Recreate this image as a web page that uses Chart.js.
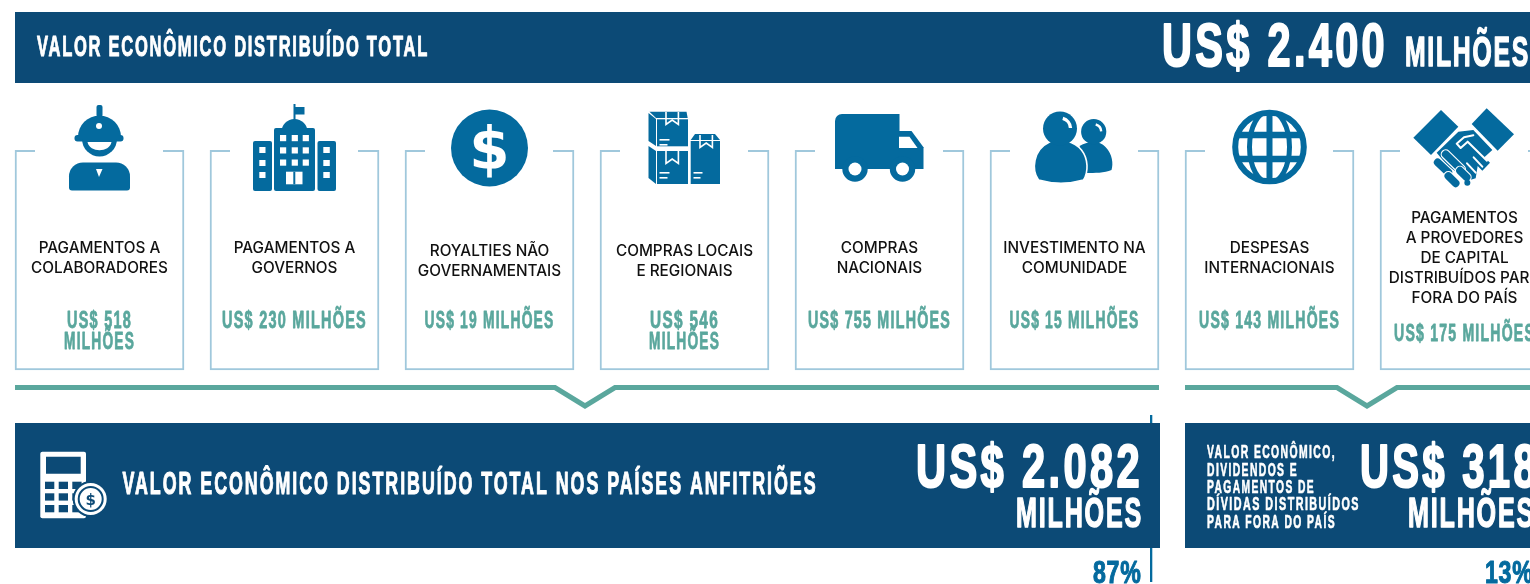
<!DOCTYPE html>
<html lang="pt-BR">
<head>
    <meta charset="UTF-8">
    <title>Valor econômico distribuído total</title>
    <script src="https://cdn.jsdelivr.net/npm/chart.js"></script>
    <style>
        html, body { margin: 0; background: #ffffff; overflow: hidden; }
        #wrap { width: 1530px; height: 584px; overflow: hidden; }
        canvas { display: block; }
    </style>
</head>
<body>
    <div id="wrap"><canvas id="cards" width="1564" height="584"></canvas></div>
    <script>
        // Dados
        const categories = [
            'PAGAMENTOS A COLABORADORES', 'PAGAMENTOS A GOVERNOS', 'ROYALTIES NÃO GOVERNAMENTAIS',
            'COMPRAS LOCAIS E REGIONAIS', 'COMPRAS NACIONAIS', 'INVESTIMENTO NA COMUNIDADE',
            'DESPESAS INTERNACIONAIS', 'PAGAMENTOS A PROVEDORES DE CAPITAL DISTRIBUÍDOS PARA FORA DO PAÍS'
        ];
        const amounts = [518, 230, 19, 546, 755, 15, 143, 175];
        const cardHeights = [1, 1, 1, 1, 1, 1, 1, 1];
        const totalTitle = 'VALOR ECONÔMICO DISTRIBUÍDO TOTAL';
        const totalAmount = '2.400';
        const hostTitle = 'VALOR ECONÔMICO DISTRIBUÍDO TOTAL NOS PAÍSES ANFITRIÕES';
        const hostAmount = '2.082';
        const hostShare = '87%';
        const abroadTitle = ['VALOR ECONÔMICO,', 'DIVIDENDOS E', 'PAGAMENTOS DE', 'DÍVIDAS DISTRIBUÍDOS', 'PARA FORA DO PAÍS'];
        const abroadAmount = '318';
        const abroadShare = '13%';
        const million = 'MILHÕES';

        // Quebras de linha e altura do texto em cada cartão
        const labelLines = [
            ['PAGAMENTOS A', 'COLABORADORES'], ['PAGAMENTOS A', 'GOVERNOS'], ['ROYALTIES NÃO', 'GOVERNAMENTAIS'],
            ['COMPRAS LOCAIS', 'E REGIONAIS'], ['COMPRAS', 'NACIONAIS'], ['INVESTIMENTO NA', 'COMUNIDADE'],
            ['DESPESAS', 'INTERNACIONAIS'], ['PAGAMENTOS', 'A PROVEDORES', 'DE CAPITAL', 'DISTRIBUÍDOS PARA', 'FORA DO PAÍS']
        ];
        const labelBaseline = [253, 253, 256, 256, 253, 253, 253, 223];
        const twoLineValue = [true, false, false, true, false, false, false, false];
        const valueBaseline = [328, 328, 328, 328, 328, 328, 328, 341];
        const valueWidth = [65, 145, 130, 69, 143, 130, 141, 141];

        const NAVY = '#0c4a76', ICON = '#046a9e', TEAL = '#5aa79d', CARD = '#a0c8dc';

        // Texto condensado: a fonte é achatada na horizontal até a largura pedida
        function cond(ctx, text, x, base, size, width, align, color, spacing) {
            ctx.save();
            ctx.font = 'bold ' + size + 'px "Liberation Sans Narrow", "Liberation Sans"';
            ctx.letterSpacing = (spacing || 0) + 'px';
            const sx = width / ctx.measureText(text).width;
            ctx.translate(x, base);
            ctx.scale(sx, 1);
            ctx.textAlign = align;
            ctx.textBaseline = 'alphabetic';
            ctx.fillStyle = color;
            ctx.fillText(text, 0, 0);
            // engrossa um pouco, a fonte original é mais pesada
            ctx.strokeStyle = color;
            ctx.lineWidth = size * 0.035;
            ctx.lineJoin = 'round';
            ctx.strokeText(text, 0, 0);
            ctx.restore();
        }

        function poly(ctx, pts, color) {
            ctx.fillStyle = color;
            ctx.beginPath();
            pts.forEach((p, i) => i ? ctx.lineTo(p[0], p[1]) : ctx.moveTo(p[0], p[1]));
            ctx.closePath();
            ctx.fill();
        }

        function box(ctx, x, y, w, h, r, color) {
            ctx.fillStyle = color;
            ctx.beginPath();
            ctx.roundRect(x, y, w, h, r);
            ctx.fill();
        }

        function disc(ctx, x, y, r, color) {
            ctx.fillStyle = color;
            ctx.beginPath();
            ctx.arc(x, y, r, 0, Math.PI * 2);
            ctx.fill();
        }

        // Ícones: x relativo ao centro do cartão, y absoluto
        function iconWorker(ctx) {
            box(ctx, -3, 105, 6, 12, 2, ICON);
            ctx.fillStyle = ICON;
            ctx.beginPath();
            ctx.arc(0, 137, 21.5, Math.PI, 0);
            ctx.fill();
            box(ctx, -25, 135, 49, 6.5, 3, ICON);
            disc(ctx, -0.5, 126, 3, '#ffffff');
            ctx.fillStyle = ICON;
            ctx.beginPath();
            ctx.arc(0, 139, 17.5, 0, Math.PI);
            ctx.fill();
            ctx.fillStyle = '#ffffff';
            ctx.beginPath();
            ctx.moveTo(-12, 142);
            ctx.lineTo(12, 142);
            ctx.bezierCurveTo(10, 153, -10, 153, -12, 142);
            ctx.fill();
            box(ctx, -30.5, 162.5, 61, 28, [14, 14, 3, 3], ICON);
            poly(ctx, [[-3.5, 169], [3, 169], [-0.5, 177]], '#ffffff');
        }

        function iconBuilding(ctx) {
            box(ctx, -41.5, 141, 19, 50, 2, ICON);
            box(ctx, 23, 141, 18.5, 50, 2, ICON);
            box(ctx, -20.5, 128, 41, 63, 2, ICON);
            ctx.fillStyle = ICON;
            ctx.beginPath();
            ctx.arc(0, 132, 13, Math.PI, 0);
            ctx.fill();
            ctx.fillRect(-1, 104, 2, 16);
            ctx.fillRect(0, 107, 10, 7.5);
            [135, 147.3, 159.5].forEach(y => [-14.5, -2.8, 8.2].forEach(x => box(ctx, x, y, 6.2, 6.2, 0, '#ffffff')));
            [147, 160, 172].forEach(y => {
                box(ctx, -35.2, y, 6.2, 6, 0, '#ffffff');
                box(ctx, 28.8, y, 6.5, 6, 0, '#ffffff');
            });
            box(ctx, -8.5, 171.7, 16.5, 12.6, 0, '#ffffff');
            box(ctx, -1.2, 171.7, 2, 12.6, 0, ICON);
        }

        function iconDollar(ctx) {
            disc(ctx, 0, 148, 38.5, ICON);
            ctx.font = 'bold 58px "DejaVu Sans"';
            ctx.textAlign = 'center';
            ctx.textBaseline = 'alphabetic';
            ctx.fillStyle = '#ffffff';
            ctx.fillText('$', 0, 169);
        }

        function ribbon(ctx, x, y) {
            ctx.strokeStyle = '#ffffff';
            ctx.lineWidth = 1.6;
            ctx.beginPath();
            ctx.moveTo(x, y);
            ctx.lineTo(x, y + 12.5);
            ctx.lineTo(x + 6.2, y + 8);
            ctx.lineTo(x + 12.4, y + 12.5);
            ctx.lineTo(x + 12.4, y);
            ctx.stroke();
        }

        function iconBoxes(ctx) {
            poly(ctx, [[-36, 113], [-28.5, 119], [-28.5, 146], [-36, 141]], ICON);
            poly(ctx, [[-35, 111.7], [2, 111.7], [3.2, 118], [-28.5, 118]], ICON);
            box(ctx, -27.5, 119.3, 31, 27, 0, ICON);
            poly(ctx, [[-36, 146], [-28.5, 151], [-28.5, 184], [-36, 178]], ICON);
            box(ctx, -27.5, 151, 31, 33, 0, ICON);
            poly(ctx, [[6.2, 140], [10.5, 134], [30.5, 134], [35.5, 140]], ICON);
            box(ctx, 6.2, 141, 29.3, 43, 0, ICON);
            ribbon(ctx, -18.5, 112);
            ribbon(ctx, -18.5, 151);
            ribbon(ctx, 15.5, 135);
            [[-25, 140, 10], [-25, 145, 8], [-25, 173, 10], [-25, 178, 8], [9, 173, 9], [9, 178, 7]].forEach(l => {
                box(ctx, l[0], l[1] - 1, l[2], 1.6, 0, '#ffffff');
            });
        }

        function iconTruck(ctx) {
            box(ctx, -44.5, 114, 64.5, 55, [7, 0, 0, 0], ICON);
            poly(ctx, [[19, 131], [32, 131], [44, 147.3], [44, 169], [19, 169]], ICON);
            poly(ctx, [[19.5, 136.7], [30, 136.7], [38, 148], [19.5, 148]], '#ffffff');
            [-24.5, 23].forEach(x => {
                disc(ctx, x, 169, 12.7, ICON);
                disc(ctx, x, 169, 6.5, '#ffffff');
            });
        }

        function iconPeople(ctx) {
            ctx.fillStyle = ICON;
            ctx.beginPath();
            ctx.moveTo(5, 146);
            ctx.bezierCurveTo(14, 141, 25, 140, 31, 147);
            ctx.bezierCurveTo(38, 154, 39, 164, 37, 170);
            ctx.bezierCurveTo(30, 173, 20, 173, 12, 173);
            ctx.closePath();
            ctx.fill();
            disc(ctx, 19.2, 131.7, 12.6, ICON);
            ctx.beginPath();
            ctx.moveTo(-36, 180);
            ctx.bezierCurveTo(-43, 170, -42, 150, -25, 142);
            ctx.bezierCurveTo(-15, 138, 0, 141, 7, 150);
            ctx.bezierCurveTo(14, 159, 14, 172, 9, 180);
            ctx.bezierCurveTo(-5, 184, -22, 184, -36, 180);
            ctx.closePath();
            ctx.fill();
            ctx.strokeStyle = '#ffffff';
            ctx.lineWidth = 1.6;
            ctx.stroke();
            disc(ctx, -14.5, 128.5, 17, ICON);
            ctx.lineCap = 'butt';
            ctx.lineWidth = 3.4;
            ctx.beginPath();
            ctx.arc(-14.5, 128.5, 10.5, -1.3, -0.05);
            ctx.stroke();
            ctx.lineWidth = 2.4;
            ctx.beginPath();
            ctx.arc(19.2, 131.7, 7.5, -1.3, -0.05);
            ctx.stroke();
        }

        function iconGlobe(ctx) {
            const cy = 147;
            ctx.strokeStyle = ICON;
            ctx.lineWidth = 6;
            ctx.beginPath();
            ctx.arc(0, cy, 34.3, 0, Math.PI * 2);
            ctx.stroke();
            ctx.save();
            ctx.beginPath();
            ctx.arc(0, cy, 34, 0, Math.PI * 2);
            ctx.clip();
            ctx.beginPath();
            ctx.moveTo(0, cy - 36);
            ctx.lineTo(0, cy + 36);
            ctx.stroke();
            ctx.lineWidth = 6.4;
            [-12, 12].forEach(dy => {
                ctx.beginPath();
                ctx.moveTo(-36, cy + dy);
                ctx.lineTo(36, cy + dy);
                ctx.stroke();
            });
            ctx.lineWidth = 5;
            ctx.beginPath();
            ctx.ellipse(0, cy, 20, 36, 0, 0, Math.PI * 2);
            ctx.stroke();
            ctx.restore();
        }

        function iconHands(ctx) {
            // coordenadas tiradas do recorte ampliado 3x
            ctx.save();
            ctx.translate(-59.5, 100);
            ctx.scale(1 / 3, 1 / 3);
            poly(ctx, [[108, 30], [160, 80], [78, 165], [25, 113]], ICON);
            poly(ctx, [[245, 25], [327, 103], [278, 152], [200, 72]], ICON);
            poly(ctx, [[95, 158], [160, 95], [205, 90], [262, 150], [238, 172], [255, 188], [232, 212], [218, 198], [212, 235], [195, 240], [130, 200]], ICON);
            ctx.lineCap = 'round';
            ctx.lineJoin = 'round';
            ctx.strokeStyle = '#ffffff';
            ctx.lineWidth = 6;
            ctx.beginPath();
            ctx.moveTo(205, 106);
            ctx.lineTo(177, 112);
            ctx.lineTo(155, 131);
            ctx.lineTo(167, 144);
            ctx.lineTo(188, 125);
            ctx.lineTo(246, 182);
            ctx.moveTo(206, 172);
            ctx.lineTo(232, 200);
            ctx.moveTo(186, 190);
            ctx.lineTo(212, 218);
            ctx.stroke();
            [[[98, 187], [130, 217]], [[122, 163], [168, 208]], [[165, 212], [185, 232]], [[130, 228], [152, 250]]].forEach(f => {
                ctx.strokeStyle = '#ffffff';
                ctx.lineWidth = 30;
                ctx.beginPath();
                ctx.moveTo(f[0][0], f[0][1]);
                ctx.lineTo(f[1][0], f[1][1]);
                ctx.stroke();
                ctx.strokeStyle = ICON;
                ctx.lineWidth = 23;
                ctx.stroke();
            });
            disc(ctx, 187, 248, 9, ICON);
            ctx.restore();
        }

        function iconCalculator(ctx) {
            box(ctx, 40.3, 451.7, 45.7, 66.6, 2, '#ffffff');
            box(ctx, 46, 456.7, 34.7, 17, 0, NAVY);
            [481.7, 493.3, 505].forEach(y => [45, 58.7, 72.3].forEach(x => box(ctx, x, y, 9.3, 7.3, 0, NAVY)));
            disc(ctx, 90.7, 499, 18, NAVY);
            disc(ctx, 90.7, 499, 16, '#ffffff');
            ctx.strokeStyle = NAVY;
            ctx.lineWidth = 2;
            ctx.beginPath();
            ctx.arc(90.7, 499, 12, 0, Math.PI * 2);
            ctx.stroke();
            ctx.font = 'bold 15px "DejaVu Sans"';
            ctx.textAlign = 'center';
            ctx.fillStyle = NAVY;
            ctx.fillText('$', 90.7, 504.5);
        }

        const icons = [iconWorker, iconBuilding, iconDollar, iconBoxes, iconTruck, iconPeople, iconGlobe, iconHands];

        // Tudo que não é barra é desenhado a partir da posição das barras
        const layoutPlugin = {
            id: 'layoutPlugin',
            afterDraw(chart) {
                const ctx = chart.ctx;
                const bars = chart.getDatasetMeta(0).data;
                const half = bars[0].width / 2;
                const left = i => bars[i].x - half;
                const right = i => bars[i].x + half;
                const top = chart.chartArea.top;

                // Faixa do total
                box(ctx, left(0), 12, 1600, 71, 0, NAVY);
                cond(ctx, totalTitle, 37, 56, 29, 392, 'left', '#ffffff', 3);
                cond(ctx, 'US$ ' + totalAmount, 1162, 66, 62, 226, 'left', '#ffffff', 5);
                cond(ctx, million, 1405, 66, 43, 125, 'left', '#ffffff', 3);

                bars.forEach((bar, i) => {
                    const cx = bar.x;
                    // pontas de cima do cartão
                    ctx.fillStyle = CARD;
                    ctx.fillRect(cx - half, top, 20, 2);
                    ctx.fillRect(cx + half - 21, top, 21, 2);

                    ctx.save();
                    ctx.translate(cx, 0);
                    icons[i](ctx);
                    ctx.restore();

                    ctx.font = '500 15.3px Inter';
                    ctx.textAlign = 'center';
                    ctx.textBaseline = 'alphabetic';
                    ctx.fillStyle = '#111111';
                    labelLines[i].forEach((line, k) => ctx.fillText(line, cx, labelBaseline[i] + k * 19.9));

                    const val = 'US$ ' + amounts[i];
                    if (twoLineValue[i]) {
                        cond(ctx, val, cx, valueBaseline[i], 23, valueWidth[i], 'center', TEAL, 2);
                        cond(ctx, million, cx, valueBaseline[i] + 21, 23, 71, 'center', TEAL, 2);
                    } else {
                        cond(ctx, val + ' ' + million, cx, valueBaseline[i], 23, valueWidth[i], 'center', TEAL, 2);
                    }
                });

                // Linha verde com as setas
                ctx.strokeStyle = TEAL;
                ctx.lineWidth = 5;
                ctx.lineJoin = 'miter';
                ctx.lineCap = 'butt';
                const chevron = (x0, x1, tip) => {
                    ctx.beginPath();
                    ctx.moveTo(x0, 387.5);
                    ctx.lineTo(tip - 30, 387.5);
                    ctx.lineTo(tip, 406);
                    ctx.lineTo(tip + 30, 387.5);
                    ctx.lineTo(x1, 387.5);
                    ctx.stroke();
                };
                chevron(left(0), right(5), 585);
                chevron(left(6), right(7), (left(6) + right(7)) / 2);

                // Fio vertical e faixas de baixo
                ctx.fillStyle = ICON;
                ctx.fillRect(1150, 415, 2.3, 167);
                box(ctx, left(0), 423, right(5) + 1 - left(0), 125, 0, NAVY);
                box(ctx, left(6), 423, 400, 125, 0, NAVY);

                iconCalculator(ctx);
                cond(ctx, hostTitle, 122.5, 494, 32, 695, 'left', '#ffffff', 3.5);
                cond(ctx, 'US$ ' + hostAmount, 1143, 487, 62, 227, 'right', '#ffffff', 5);
                cond(ctx, million, 1143, 527, 42, 127, 'right', '#ffffff', 3);
                cond(ctx, hostShare, 1141.5, 582.5, 31, 48.5, 'right', ICON, 1);

                const abroadWidths = [129, 91, 108, 153, 129];
                abroadTitle.forEach((line, k) => {
                    cond(ctx, line, 1207, [458, 475.5, 493, 510, 527.5][k], 18.5, abroadWidths[k], 'left', '#ffffff', 2.5);
                });
                cond(ctx, 'US$ ' + abroadAmount, 1360, 487, 62, 179, 'left', '#ffffff', 5);
                cond(ctx, million, 1408, 527, 42, 127, 'left', '#ffffff', 3);
                cond(ctx, abroadShare, 1485, 582.5, 31, 48.5, 'left', ICON, 1);
            }
        };

        new Chart(document.getElementById('cards').getContext('2d'), {
            type: 'bar',
            data: {
                labels: categories,
                datasets: [{
                    data: cardHeights,
                    backgroundColor: '#ffffff',
                    borderColor: CARD,
                    borderWidth: 2,
                    borderSkipped: 'top',
                    barThickness: 169,
                    clip: false
                }]
            },
            options: {
                responsive: false,
                animation: false,
                events: [],
                layout: { padding: { left: 2, right: 2, top: 150, bottom: 214 } },
                plugins: { legend: { display: false }, tooltip: { enabled: false } },
                scales: {
                    x: { display: false },
                    y: { display: false, min: 0, max: 1 }
                }
            },
            plugins: [layoutPlugin]
        });
    </script>
</body>
</html>
